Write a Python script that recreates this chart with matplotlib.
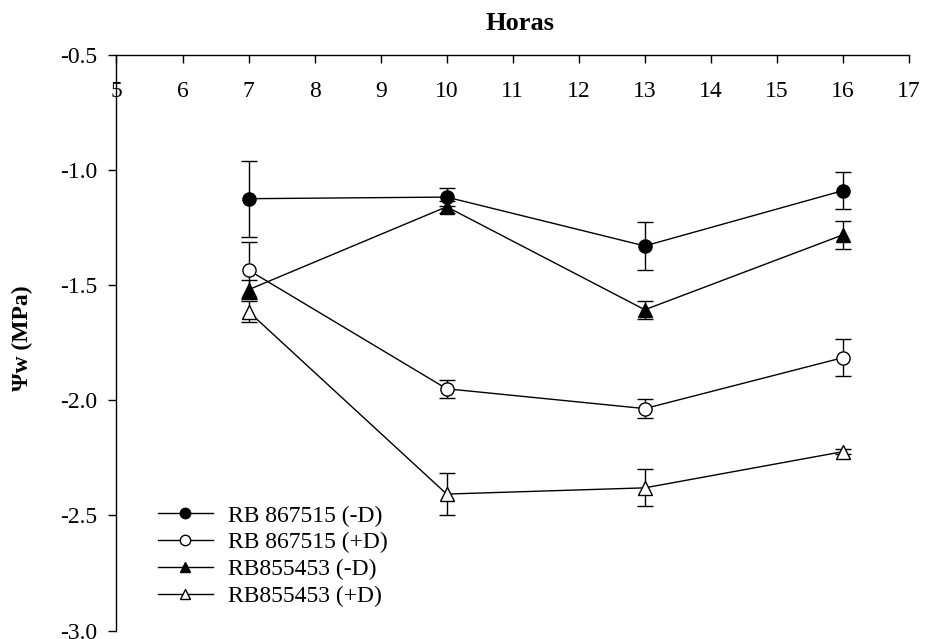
import matplotlib
matplotlib.use("Agg")
import matplotlib.pyplot as plt
from matplotlib.lines import Line2D

plt.rcParams['font.family'] = ['Liberation Serif', 'DejaVu Serif']

hours = [7, 10, 13, 16]
labels = ['RB 867515 (-D)', 'RB 867515 (+D)', 'RB855453 (-D)', 'RB855453 (+D)']
rb867_nd = [-1.125, -1.118, -1.330, -1.090]
rb867_nd_err = [0.165, 0.040, 0.105, 0.080]
rb867_d = [-1.435, -1.950, -2.036, -1.815]
rb867_d_err = [0.120, 0.040, 0.040, 0.080]
rb855_nd = [-1.520, -1.160, -1.607, -1.282]
rb855_nd_err = [0.040, 0.025, 0.040, 0.060]
rb855_d = [-1.615, -2.407, -2.380, -2.223]
rb855_d_err = [0.045, 0.090, 0.080, 0.012]

xticks = list(range(5, 18))
yticks = [-3.0, -2.5, -2.0, -1.5, -1.0, -0.5]

fig = plt.figure(figsize=(9.29, 6.39), dpi=100)
ax = fig.add_axes([0.1254, 0.013, 0.853, 0.9014])

series = [
    (rb867_nd, rb867_nd_err, 'o', 'black'),
    (rb867_d, rb867_d_err, 'o', 'white'),
    (rb855_nd, rb855_nd_err, '^', 'black'),
    (rb855_d, rb855_d_err, '^', 'white'),
]
handles = []
for (vals, errs, mk, fc), lab in zip(series, labels):
    ax.errorbar(hours, vals, yerr=errs, fmt='none', ecolor='black',
                elinewidth=1.0, capsize=6, capthick=1.0, zorder=2)
    ax.plot(hours, vals, marker=mk, markersize=9.5, markerfacecolor=fc,
            markeredgecolor='black', markeredgewidth=1.0, color='black',
            linewidth=1.0, zorder=3)
    handles.append(Line2D([], [], marker=mk, markersize=7.5, markerfacecolor=fc,
                          markeredgecolor='black', markeredgewidth=1.0,
                          color='black', linewidth=1.0, label=lab))

ax.set_xlim(5, 17)
ax.set_ylim(-3.0, -0.5)
ax.set_xticks(xticks)
ax.set_xticklabels([str(t) for t in xticks])
ax.set_yticks(yticks)
ax.set_yticklabels([f"{t:.1f}" for t in yticks])

for s in ['bottom', 'right']:
    ax.spines[s].set_visible(False)
ax.spines['top'].set_linewidth(1.0)
ax.spines['left'].set_linewidth(1.0)

ax.tick_params(axis='x', top=True, bottom=False, labeltop=True, labelbottom=False,
               direction='in', length=6, width=1.0, pad=-34, labelsize=17)
ax.tick_params(axis='y', direction='out', length=6, width=1.0, pad=8, labelsize=17)

fig.text(520/929, 1-24/639, 'Horas', ha='center', va='center',
         fontsize=19, fontweight='bold')
fig.text(22/929, 1-338/639, 'Ψw (MPa)', ha='center', va='center',
         rotation=90, fontsize=17, fontweight='bold')

ax.legend(handles=handles, loc='upper left', bbox_to_anchor=(0.052, 0.2180),
          frameon=False, fontsize=17, handlelength=2.33, handletextpad=0.64,
          labelspacing=0.22, borderpad=0, borderaxespad=0)

fig.savefig('out.png', dpi=100)
